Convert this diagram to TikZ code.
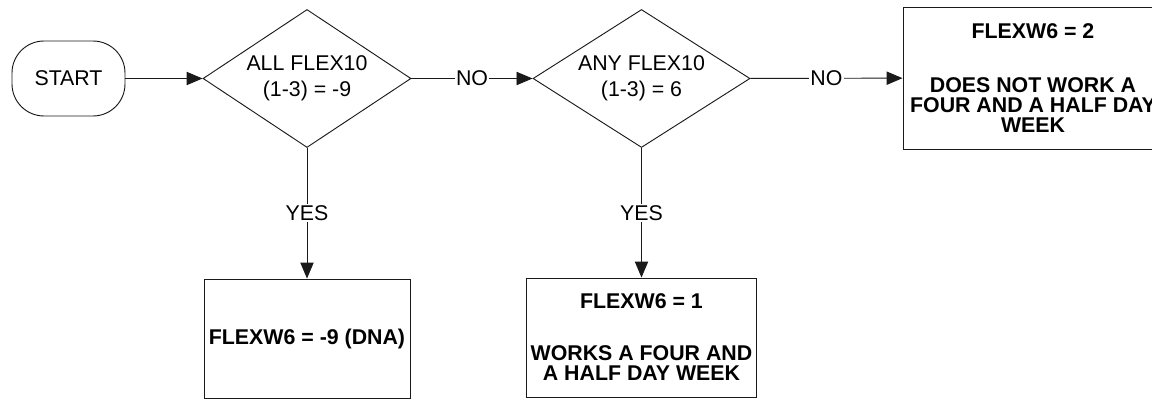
\documentclass[tikz,border=0pt]{standalone}
\usepackage{fontspec}
\setmainfont{Liberation Sans}
\usetikzlibrary{arrows.meta, shapes.geometric}
\definecolor{FlowLine}{HTML}{1A1A1A}

\tikzset{
  startbox/.style={draw=FlowLine, line width=0.7pt, rounded corners=24pt,
    minimum width=84.75pt, minimum height=56.25pt, font=\fontsize{16}{18}\selectfont},
  decision/.style={draw=FlowLine, line width=0.7pt, diamond, aspect=1.5, inner sep=0pt,
    align=center, font=\fontsize{16}{19.5}\selectfont},
  outcome/.style={draw=FlowLine, line width=0.7pt, rectangle, inner sep=0pt,
    align=center, font=\fontsize{16}{15}\selectfont\bfseries},
  flow/.style={draw=FlowLine, line width=0.7pt, -{Triangle[length=12pt,width=10pt]}},
  answer/.style={fill=white, inner sep=1pt, font=\fontsize{16}{18}\selectfont}
}

\begin{document}
\begin{tikzpicture}[x=0.75pt, y=-0.75pt]
\useasboundingbox (0,0) rectangle (1152,399);
\node[startbox] (start) at (68.5,78.5) {START};
\node[decision, minimum width=156pt, minimum height=103.5pt] (allflex) at (307,78.5) {ALL FLEX10\\(1-3) = -9};
\node[decision, minimum width=162.75pt, minimum height=103.5pt] (anyflex) at (641.5,78.5) {ANY FLEX10\\(1-3) = 6};
\node[outcome, minimum width=195pt, minimum height=106.5pt] (notwork) at (1033,78) {FLEXW6 = 2\\[26pt]DOES NOT WORK A\\FOUR AND A HALF DAY\\WEEK};
\node[outcome, minimum width=154.5pt, minimum height=89.25pt] (dna) at (307,338.5) {FLEXW6 = -9 (DNA)};
\node[outcome, minimum width=172.5pt, minimum height=89.25pt] (works) at (641.5,337.5) {FLEXW6 = 1\\[24pt]WORKS A FOUR AND\\A HALF DAY WEEK};

\draw[flow] (start) -- (allflex);
\draw[flow] (allflex) -- node[answer] {NO} (anyflex);
\draw[flow] (anyflex) -- node[answer] {NO} (notwork);
\draw[flow] (allflex) -- node[answer] {YES} (dna);
\draw[flow] (anyflex) -- node[answer] {YES} (works);
\end{tikzpicture}
\end{document}
